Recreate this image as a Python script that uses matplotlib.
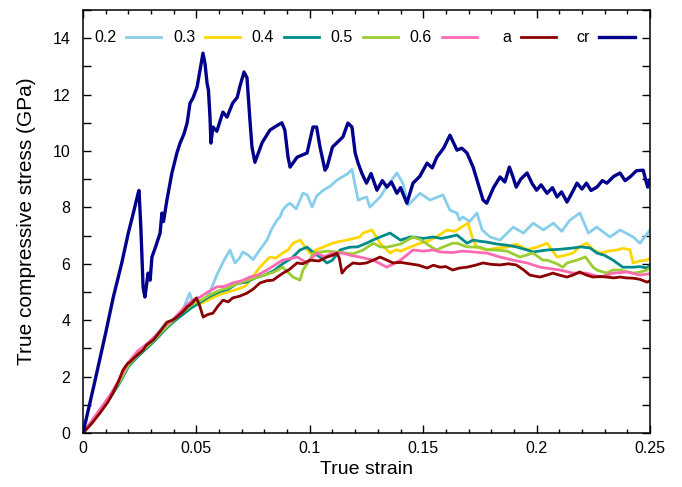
import matplotlib
matplotlib.use("Agg")
import matplotlib.pyplot as plt
from matplotlib.ticker import MultipleLocator
from matplotlib.legend import Legend

plt.rcParams['font.family'] = ['Liberation Sans', 'DejaVu Sans']

# ---------------- data ----------------
labels = ["0.2", "0.3", "0.4", "0.5", "0.6", "a", "cr"]
colors = ["#87CEEB", "#FFD700", "#008B8B", "#9ACD32", "#FF69B4", "#8B0000", "#00008B"]

s02_strain = [0, 0.004, 0.008, 0.012, 0.016, 0.020, 0.024, 0.028, 0.032, 0.036, 0.040, 0.044,
              0.047, 0.049, 0.051, 0.053, 0.056, 0.059, 0.062, 0.0648, 0.067, 0.069, 0.0705,
              0.073, 0.075, 0.078, 0.0811, 0.083, 0.0855, 0.0869, 0.088, 0.090, 0.0913, 0.094,
              0.097, 0.0988, 0.101, 0.103, 0.1058, 0.109, 0.112, 0.1168, 0.1186, 0.1213, 0.125,
              0.1265, 0.131, 0.1345, 0.1384, 0.141, 0.1433, 0.1486, 0.153, 0.1587, 0.1618,
              0.1649, 0.166, 0.1675, 0.1705, 0.1737, 0.176, 0.1795, 0.1839, 0.1897, 0.1942,
              0.1985, 0.2030, 0.2074, 0.2111, 0.2147, 0.2191, 0.2228, 0.2265, 0.2324, 0.2368,
              0.2426, 0.2456, 0.25]
s02_stress = [0, 0.4, 0.85, 1.3, 1.85, 2.45, 2.75, 3.1, 3.45, 3.85, 4.05, 4.35,
              4.96, 4.5, 4.7, 4.65, 5.0, 5.6, 6.1, 6.49, 6.03, 6.2, 6.42,
              6.3, 6.15, 6.5, 6.84, 7.2, 7.55, 7.66, 7.9, 8.08, 8.15, 7.95,
              8.5, 8.45, 8.01, 8.4, 8.6, 8.75, 8.97, 9.2, 9.35, 8.26, 8.37,
              8.01, 8.37, 8.8, 9.22, 8.86, 8.08, 8.5, 8.26, 8.44, 7.9,
              7.8, 7.55, 7.66, 7.5, 7.8, 7.2, 6.95, 6.84, 7.3, 7.09,
              7.44, 7.2, 7.44, 7.15, 7.55, 7.8, 7.09, 7.3, 6.95, 7.2,
              6.95, 6.73, 7.2]

s03_strain = [0, 0.004, 0.008, 0.012, 0.016, 0.020, 0.024, 0.028, 0.032, 0.036, 0.040, 0.044,
              0.048, 0.052, 0.056, 0.060, 0.064, 0.068, 0.0715, 0.0736, 0.078, 0.0824, 0.085,
              0.088, 0.0905, 0.0926, 0.0957, 0.098, 0.100, 0.103, 0.1058, 0.110, 0.1135, 0.1164,
              0.1195, 0.122, 0.1235, 0.1274, 0.131, 0.1354, 0.138, 0.140, 0.1445, 0.1486, 0.152,
              0.1545, 0.1577, 0.1605, 0.164, 0.1669, 0.1698, 0.172, 0.1737, 0.178, 0.182, 0.187,
              0.191, 0.1958, 0.2005, 0.2046, 0.209, 0.2125, 0.216, 0.219, 0.222, 0.2249, 0.228,
              0.2317, 0.2354, 0.2382, 0.2412, 0.2425, 0.2455, 0.2487, 0.25]
s03_stress = [0, 0.4, 0.85, 1.3, 1.85, 2.5, 2.85, 3.0, 3.35, 3.7, 3.95, 4.25,
              4.5, 4.6, 4.75, 4.9, 5.0, 5.1, 5.2, 5.42, 5.88, 6.24, 6.2,
              6.38, 6.5, 6.73, 6.84, 6.59, 6.38, 6.5, 6.59, 6.73, 6.8, 6.84,
              6.9, 6.95, 7.09, 7.2, 6.73, 6.38, 6.5, 6.45, 6.6, 6.73, 6.8,
              6.9, 7.05, 7.2, 7.15, 7.3, 7.44, 6.84, 6.59, 6.49, 6.55, 6.59,
              6.7, 6.5, 6.6, 6.73, 6.24, 6.3, 6.38, 6.6, 6.73, 6.5, 6.38,
              6.45, 6.49, 6.55, 6.49, 6.03, 6.1, 6.13, 6.2]

s04_strain = [0, 0.004, 0.008, 0.012, 0.016, 0.020, 0.024, 0.028, 0.032, 0.036, 0.040, 0.044,
              0.048, 0.052, 0.056, 0.060, 0.064, 0.068, 0.072, 0.076, 0.080, 0.084, 0.088,
              0.092, 0.0957, 0.0988, 0.1015, 0.1045, 0.1076, 0.110, 0.1133, 0.1177, 0.121,
              0.125, 0.128, 0.131, 0.1354, 0.140, 0.1442, 0.1455, 0.150, 0.1543, 0.158, 0.1612,
              0.1649, 0.1693, 0.172, 0.175, 0.178, 0.1825, 0.187, 0.191, 0.1958, 0.1984, 0.2046,
              0.2072, 0.211, 0.216, 0.2195, 0.2236, 0.2266, 0.230, 0.2337, 0.238, 0.2425,
              0.2455, 0.2487, 0.25]
s04_stress = [0, 0.4, 0.85, 1.25, 1.75, 2.35, 2.7, 3.0, 3.3, 3.65, 3.95, 4.2,
              4.45, 4.65, 4.85, 5.0, 5.1, 5.3, 5.35, 5.5, 5.6, 5.75, 6.0,
              6.2, 6.49, 6.59, 6.4, 6.24, 6.03, 6.13, 6.49, 6.59, 6.6,
              6.73, 6.85, 6.95, 7.09, 6.84, 6.95, 6.95, 6.9, 6.95, 6.9, 6.95,
              7.02, 6.73, 6.84, 6.8, 6.77, 6.7, 6.66, 6.6, 6.49, 6.42, 6.49,
              6.5, 6.52, 6.56, 6.6, 6.56, 6.38, 6.3, 6.13, 5.88, 5.88,
              5.9, 5.85, 5.96]

s05_strain = [0, 0.004, 0.008, 0.012, 0.016, 0.020, 0.024, 0.028, 0.032, 0.036, 0.040, 0.044,
              0.048, 0.052, 0.056, 0.060, 0.064, 0.068, 0.072, 0.076, 0.080, 0.084, 0.088,
              0.0926, 0.0957, 0.097, 0.100, 0.1014, 0.1076, 0.1146, 0.119, 0.1235, 0.128, 0.131,
              0.134, 0.140, 0.1455, 0.149, 0.1535, 0.156, 0.1574, 0.1605, 0.163, 0.1649, 0.1693,
              0.175, 0.178, 0.182, 0.187, 0.191, 0.1927, 0.1984, 0.2028, 0.2046, 0.2090, 0.2116,
              0.2134, 0.2178, 0.2215, 0.2249, 0.2266, 0.231, 0.2337, 0.2368, 0.2425, 0.2455,
              0.2487, 0.25]
s05_stress = [0, 0.4, 0.85, 1.3, 1.8, 2.4, 2.75, 3.05, 3.35, 3.7, 4.0, 4.3,
              4.55, 4.7, 4.9, 5.05, 5.15, 5.3, 5.4, 5.5, 5.6, 5.7, 5.88,
              5.53, 5.42, 5.78, 6.13, 6.38, 6.45, 6.4, 6.35, 6.49, 6.73, 6.6,
              6.59, 6.7, 6.95, 6.85, 6.6, 6.49, 6.55, 6.65, 6.73, 6.73, 6.6,
              6.59, 6.5, 6.49, 6.45, 6.3, 6.24, 6.38, 6.13, 6.13, 6.0, 5.88,
              6.03, 6.13, 6.24, 5.88, 5.78, 5.67, 5.78, 5.78, 5.67, 5.7,
              5.78, 5.85]

s06_strain = [0, 0.004, 0.008, 0.012, 0.016, 0.020, 0.024, 0.028, 0.032, 0.036, 0.040, 0.044,
              0.048, 0.0516, 0.055, 0.059, 0.0625, 0.066, 0.070, 0.0736, 0.077, 0.0811, 0.0845,
              0.088, 0.0944, 0.0988, 0.1031, 0.1065, 0.110, 0.1146, 0.118, 0.122, 0.128, 0.134,
              0.140, 0.1455, 0.150, 0.1545, 0.1574, 0.163, 0.1675, 0.172, 0.178, 0.1839, 0.1896,
              0.1958, 0.2015, 0.2103, 0.216, 0.222, 0.228, 0.2337, 0.240, 0.2456, 0.25]
s06_stress = [0, 0.45, 0.9, 1.35, 1.9, 2.5, 2.9, 3.15, 3.45, 3.8, 4.05, 4.4,
              4.7, 4.82, 5.0, 5.18, 5.2, 5.32, 5.4, 5.53, 5.6, 5.78, 5.95,
              6.13, 6.24, 6.03, 6.38, 6.25, 6.38, 6.38, 6.3, 6.24, 6.13, 5.88,
              6.13, 6.49, 6.45, 6.49, 6.42, 6.4, 6.45, 6.42, 6.38, 6.24, 6.13,
              6.03, 5.88, 5.78, 5.67, 5.67, 5.53, 5.67, 5.71, 5.6, 5.65]

a_strain = [0, 0.004, 0.0075, 0.011, 0.0132, 0.0155, 0.0176, 0.0195, 0.0207, 0.023, 0.0265,
            0.028, 0.031, 0.034, 0.037, 0.0395, 0.0414, 0.044, 0.0459, 0.048, 0.050, 0.0515,
            0.053, 0.055, 0.0573, 0.0595, 0.0617, 0.064, 0.066, 0.069, 0.0723, 0.075, 0.078,
            0.081, 0.0838, 0.086, 0.0882, 0.091, 0.0944, 0.097, 0.100, 0.104, 0.1076, 0.110,
            0.112, 0.113, 0.1142, 0.116, 0.119, 0.122, 0.125, 0.128, 0.131, 0.134, 0.1367,
            0.140, 0.144, 0.148, 0.1517, 0.1545, 0.1574, 0.160, 0.163, 0.166, 0.1693, 0.173,
            0.1764, 0.180, 0.1839, 0.1875, 0.191, 0.194, 0.197, 0.2015, 0.2045, 0.2072, 0.210,
            0.2134, 0.216, 0.219, 0.222, 0.2249, 0.228, 0.231, 0.234, 0.2368, 0.2395, 0.2425,
            0.2455, 0.2487, 0.25]
a_stress = [0, 0.35, 0.71, 1.1, 1.42, 1.8, 2.23, 2.45, 2.52, 2.7, 2.94,
            3.12, 3.3, 3.6, 3.93, 4.0, 4.11, 4.3, 4.47, 4.6, 4.79, 4.5,
            4.11, 4.2, 4.25, 4.5, 4.71, 4.65, 4.79, 4.85, 4.96, 5.1, 5.32,
            5.4, 5.42, 5.55, 5.67, 5.8, 6.03, 6.0, 6.13, 6.1, 6.24, 6.3,
            6.38, 6.2, 5.67, 5.85, 6.03, 6.0, 6.03, 6.13, 6.24, 6.13, 6.03,
            6.05, 6.0, 5.95, 5.85, 5.95, 5.88, 5.9, 5.78, 5.85, 5.88, 5.95,
            6.03, 5.98, 5.96, 6.0, 5.96, 5.8, 5.6, 5.53, 5.6, 5.67, 5.6,
            5.53, 5.6, 5.71, 5.6, 5.53, 5.55, 5.53, 5.5, 5.53, 5.5, 5.49,
            5.45, 5.35, 5.4]

cr_strain = [0, 0.005, 0.010, 0.0134, 0.017, 0.020, 0.0225, 0.0243, 0.0247, 0.0255, 0.0265,
             0.0273, 0.0287, 0.0296, 0.0304, 0.032, 0.034, 0.0348, 0.0355, 0.037, 0.0392, 0.0414,
             0.0428, 0.0445, 0.0459, 0.0472, 0.0485, 0.0503, 0.0516, 0.0529, 0.0538, 0.0547,
             0.0553, 0.056, 0.0564, 0.0573, 0.059, 0.0617, 0.0635, 0.066, 0.068, 0.0692, 0.071,
             0.0723, 0.0736, 0.0745, 0.0758, 0.079, 0.0824, 0.0855, 0.0877, 0.089, 0.0904,
             0.0913, 0.0944, 0.0988, 0.1014, 0.103, 0.1045, 0.1067, 0.1076, 0.110, 0.1146,
             0.1168, 0.1186, 0.120, 0.1213, 0.123, 0.125, 0.127, 0.1296, 0.132, 0.134, 0.136,
             0.1384, 0.140, 0.1428, 0.1455, 0.1485, 0.1517, 0.154, 0.156, 0.159, 0.1618, 0.1649,
             0.167, 0.1693, 0.172, 0.1764, 0.178, 0.181, 0.1839, 0.186, 0.188, 0.1895, 0.191,
             0.193, 0.1958, 0.198, 0.200, 0.202, 0.2046, 0.207, 0.209, 0.211, 0.2134, 0.2155,
             0.2178, 0.220, 0.222, 0.224, 0.2266, 0.229, 0.231, 0.234, 0.2368, 0.239, 0.2412,
             0.244, 0.247, 0.248, 0.249, 0.25]
cr_stress = [0, 1.75, 3.55, 4.83, 6.0, 7.1, 7.9, 8.5, 8.6, 7.3, 5.17,
             4.82, 5.67, 5.42, 6.24, 6.6, 7.09, 7.8, 7.5, 8.26, 9.22, 9.93,
             10.28, 10.6, 10.99, 11.7, 11.88, 12.27, 12.87, 13.47, 13.1, 12.4,
             12.16, 11.2, 10.28, 10.85, 10.7, 11.38, 11.2, 11.7, 11.9, 12.3, 12.8,
             12.6, 11.1, 10.14, 9.6, 10.3, 10.74, 10.9, 11.0, 10.74, 9.78,
             9.43, 9.78, 9.93, 10.85, 10.85, 10.14, 9.32, 9.43, 10.14, 10.5,
             10.99, 10.85, 9.93, 9.57, 9.2, 8.86, 9.2, 8.61, 8.95, 8.72, 8.9,
             8.5, 8.7, 8.15, 8.86, 9.1, 9.57, 9.4, 9.78, 10.1, 10.56, 10.03,
             10.1, 9.93, 9.43, 8.26, 8.15, 8.7, 9.08, 8.9, 9.43, 9.1, 8.72,
             9.0, 9.22, 8.85, 8.61, 8.8, 8.5, 8.7, 8.37, 8.55, 8.19, 8.5,
             8.86, 8.65, 8.86, 8.6, 8.72, 8.95, 8.86, 9.1, 9.22, 8.95, 9.08,
             9.3, 9.32, 9.0, 8.72, 8.97]

series = [(s02_strain, s02_stress), (s03_strain, s03_stress), (s04_strain, s04_stress),
          (s05_strain, s05_stress), (s06_strain, s06_stress), (a_strain, a_stress),
          (cr_strain, cr_stress)]

x_ticks = [0, 0.05, 0.1, 0.15, 0.2, 0.25]
x_tick_labels = ["0", "0.05", "0.1", "0.15", "0.2", "0.25"]
y_ticks = [0, 2, 4, 6, 8, 10, 12, 14]

# ---------------- figure ----------------
fig = plt.figure(figsize=(6.82, 4.87), dpi=100)
ax = fig.add_axes([83 / 682, 54 / 487, 567 / 682, 423 / 487])

lines = []
for (xs, ys), lab, col in zip(series, labels, colors):
    lw = 2.4 if lab == "cr" else 2.0
    ln, = ax.plot(xs, ys, color=col, lw=lw, label=lab)
    lines.append(ln)

ax.set_xlim(0, 0.25)
ax.set_ylim(0, 15)
ax.set_xticks(x_ticks)
ax.set_xticklabels(x_tick_labels)
ax.set_yticks(y_ticks)
ax.xaxis.set_minor_locator(MultipleLocator(0.01))
ax.yaxis.set_minor_locator(MultipleLocator(1))
ax.tick_params(which='both', direction='in', top=True, right=True, width=1.0)
ax.tick_params(which='major', length=5.5, labelsize=11.5)
ax.tick_params(axis='x', which='minor', length=3.2)
ax.tick_params(axis='y', which='minor', length=5.5)
ax.tick_params(axis='x', which='major', pad=6)
ax.tick_params(axis='y', which='major', pad=9)
for sp in ax.spines.values():
    sp.set_linewidth(1.1)

ax.set_xlabel("True strain", fontsize=14, labelpad=3)
ax.set_ylabel("True compressive stress (GPa)", fontsize=15, labelpad=12)

# gnuplot-style key: label right-aligned before its sample, one row at the top
key_y = 0.934
key_x0 = 0.1376
key_step = 0.1392
for i, (ln, lab) in enumerate(zip(lines, labels)):
    leg = Legend(ax, [ln], [lab], loc='center right',
                 bbox_to_anchor=(key_x0 + i * key_step, key_y),
                 bbox_transform=ax.transAxes,
                 frameon=False, markerfirst=False, handlelength=2.2,
                 handletextpad=0.6, borderpad=0, borderaxespad=0,
                 fontsize=11.5)
    ax.add_artist(leg)

fig.savefig("out.png", dpi=100)
